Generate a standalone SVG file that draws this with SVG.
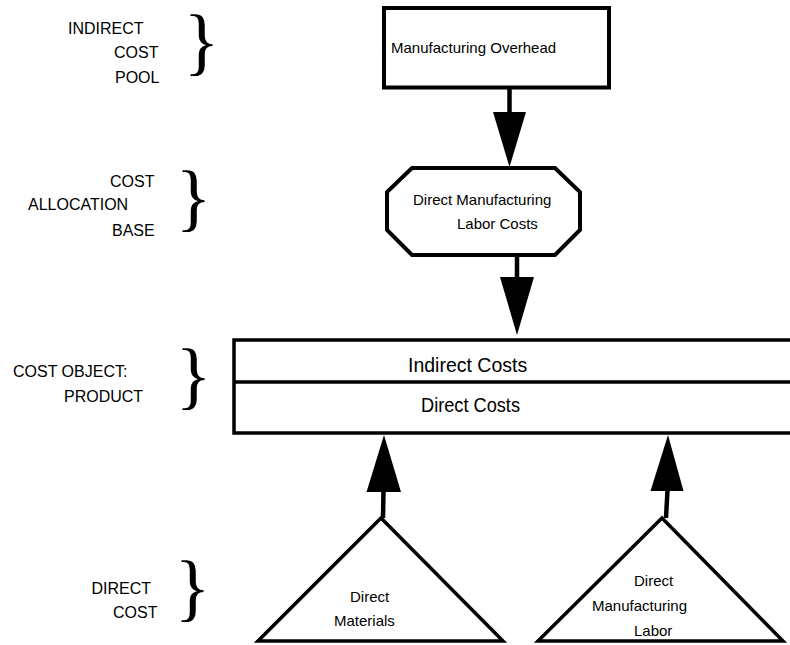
<svg xmlns="http://www.w3.org/2000/svg" width="790" height="645" viewBox="0 0 790 645">
  <style>
    .shape { fill: #ffffff; stroke: #000000; stroke-width: 4; stroke-linejoin: miter; }
    .thin { stroke-width: 3.5; }
    .lbl { font-family: "Liberation Sans", Arial, sans-serif; font-size: 16px; fill: #000000; }
    .node { font-family: "Liberation Sans", Arial, sans-serif; font-size: 15px; fill: #000000; }
    .big { font-family: "Liberation Sans", Arial, sans-serif; font-size: 19.5px; fill: #000000; }
    .brace { font-family: "Liberation Serif", "Times New Roman", serif; font-size: 74px; fill: #000000; }
    .stem { stroke: #000000; stroke-width: 4.5; fill: none; }
    .head { fill: #000000; stroke: none; }
  </style>

  <!-- level labels with braces -->
  <g id="label-indirect-cost-pool">
    <text class="lbl" x="68" y="34">INDIRECT</text>
    <text class="lbl" x="114" y="58">COST</text>
    <text class="lbl" x="115" y="83">POOL</text>
    <text class="brace" x="183.7" y="65.6">}</text>
  </g>
  <g id="label-cost-allocation-base">
    <text class="lbl" x="110" y="187">COST</text>
    <text class="lbl" x="28" y="210">ALLOCATION</text>
    <text class="lbl" x="112" y="236">BASE</text>
    <text class="brace" x="175.7" y="221.6">}</text>
  </g>
  <g id="label-cost-object">
    <text class="lbl" x="13" y="377">COST OBJECT:</text>
    <text class="lbl" x="64" y="402">PRODUCT</text>
    <text class="brace" x="175.7" y="399.6">}</text>
  </g>
  <g id="label-direct-cost">
    <text class="lbl" x="91.5" y="594">DIRECT</text>
    <text class="lbl" x="113" y="618">COST</text>
    <text class="brace" x="174.7" y="611.6">}</text>
  </g>

  <!-- nodes -->
  <g id="manufacturing-overhead">
    <rect class="shape" x="384" y="8" width="225" height="79.5"/>
    <text class="node" x="391" y="53">Manufacturing Overhead</text>
  </g>

  <g id="direct-manufacturing-labor-costs">
    <polygon class="shape" points="412,168 555,168 580,192 580,230 555,255 412,255 387,230 387,192"/>
    <text class="node" x="413" y="205">Direct Manufacturing</text>
    <text class="node" x="457" y="229">Labor Costs</text>
  </g>

  <g id="product">
    <rect class="shape thin" x="234" y="340" width="570" height="93"/>
    <line x1="234" y1="382" x2="804" y2="382" stroke="#000000" stroke-width="3.5"/>
    <text class="big" x="408" y="372">Indirect Costs</text>
    <text class="big" x="421" y="412" textLength="99" lengthAdjust="spacingAndGlyphs">Direct Costs</text>
  </g>

  <g id="direct-materials">
    <polygon class="shape thin" points="381,518 503,641 258,641"/>
    <text class="node" x="350" y="602" font-size="16">Direct</text>
    <text class="node" x="334" y="626" font-size="16">Materials</text>
  </g>

  <g id="direct-manufacturing-labor">
    <polygon class="shape thin" points="662,518 783,641 538,641"/>
    <text class="node" x="634" y="586">Direct</text>
    <text class="node" x="592" y="611">Manufacturing</text>
    <text class="node" x="634" y="636">Labor</text>
  </g>

  <!-- connectors -->
  <g id="connectors">
    <line class="stem" x1="509.5" y1="88" x2="509.5" y2="113"/>
    <polygon class="head" points="493,112 526,112 509.5,167"/>

    <line class="stem" x1="517" y1="253" x2="517" y2="278"/>
    <polygon class="head" points="500,277 534,277 517,335"/>

    <line class="stem" x1="383" y1="518" x2="383.5" y2="490"/>
    <polygon class="head" points="366.5,492 401,492 384,435"/>

    <line class="stem" x1="666" y1="518" x2="667.5" y2="490"/>
    <polygon class="head" points="650.5,491 683.5,491 668,435"/>
  </g>
</svg>
